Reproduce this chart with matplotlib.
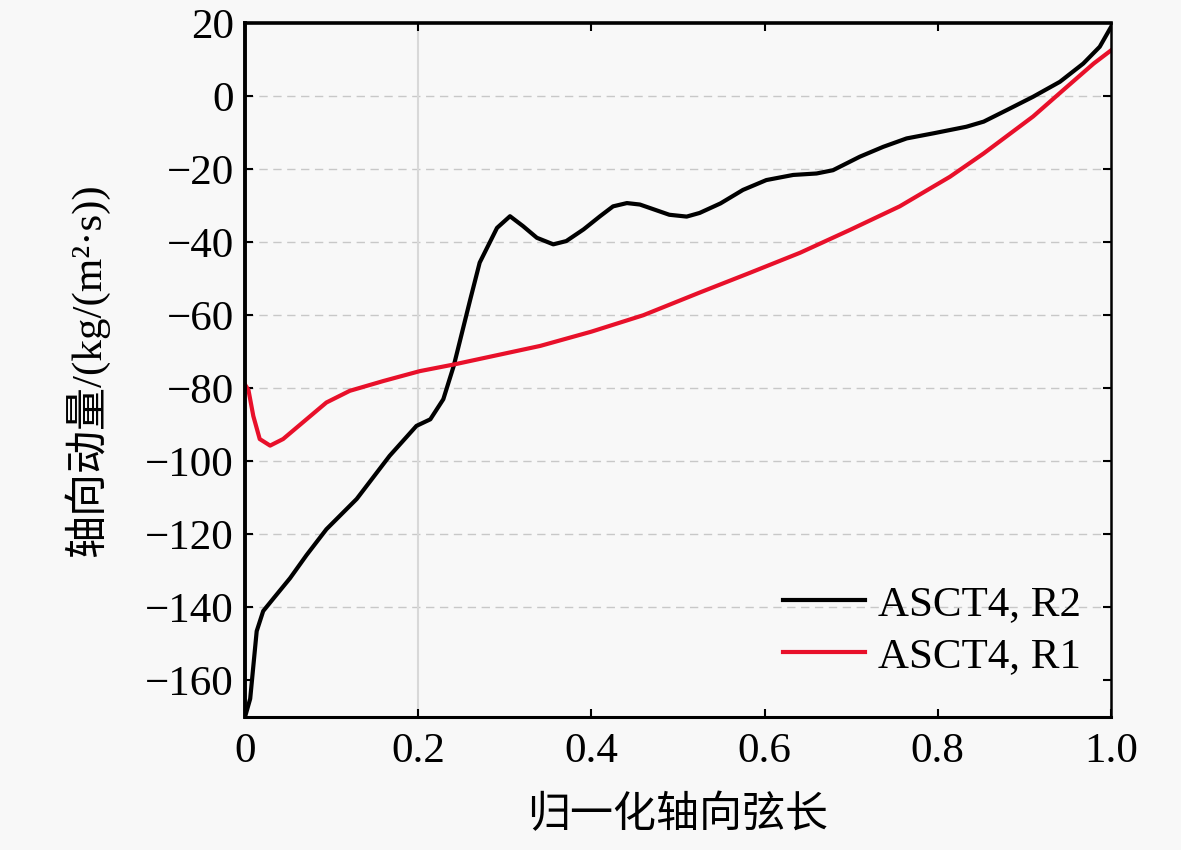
import numpy as np
import matplotlib
matplotlib.use("Agg")
import matplotlib.pyplot as plt

plt.rcParams['font.family'] = ['Liberation Serif', 'Noto Sans CJK SC', 'DejaVu Sans']
plt.rcParams['axes.unicode_minus'] = True

# ASCT4, R2 (black)
x_r2 = [0, 0.006, 0.0135, 0.021, 0.033, 0.052, 0.071, 0.094, 0.129, 0.167, 0.198,
        0.214, 0.229, 0.241, 0.26, 0.271, 0.291, 0.306, 0.321, 0.337, 0.356, 0.371,
        0.391, 0.41, 0.425, 0.441, 0.456, 0.49, 0.51, 0.525, 0.549, 0.575, 0.602,
        0.633, 0.66, 0.679, 0.71, 0.737, 0.764, 0.795, 0.833, 0.853, 0.88, 0.91,
        0.941, 0.968, 0.987, 1.0]
y_r2 = [-170, -165, -146.5, -141, -137.5, -132, -125.7, -118.6, -110.3, -98.5, -90.3,
        -88.5, -83, -73.9, -55.8, -45.6, -36.1, -32.9, -35.6, -38.8, -40.6, -39.7,
        -36.5, -32.9, -30.2, -29.3, -29.7, -32.5, -33, -32.0, -29.4, -25.7, -23.0,
        -21.6, -21.2, -20.3, -16.6, -13.9, -11.6, -10.2, -8.4, -7.0, -3.8, -0.2,
        3.9, 8.9, 13.5, 18.9]

# ASCT4, R1 (red)
x_r1 = [0, 0.004, 0.0096, 0.017, 0.029, 0.044, 0.071, 0.094, 0.121, 0.16, 0.202,
        0.241, 0.341, 0.4, 0.46, 0.525, 0.583, 0.641, 0.699, 0.756, 0.814, 0.853,
        0.91, 0.949, 0.98, 1.0]
y_r1 = [-79, -80.5, -87.6, -93.9, -95.7, -93.9, -88.5, -83.9, -80.7, -78.0, -75.3,
        -73.5, -68.4, -64.5, -60, -53.8, -48.4, -42.9, -36.6, -30.2, -22.1, -15.7,
        -5.6, 2.5, 8.9, 12.5]

xticks = [0, 0.2, 0.4, 0.6, 0.8, 1.0]
xticklabels = ['0', '0.2', '0.4', '0.6', '0.8', '1.0']
yticks = list(range(-160, 21, 20))

fig = plt.figure(figsize=(11.81, 8.5), dpi=100, facecolor='#f8f8f8')
ax = fig.add_axes([245/1181, 1 - 717/850, (1111-245)/1181, (717-23)/850])
ax.set_facecolor('#f8f8f8')

for yv in yticks[1:-1]:
    ax.axhline(yv, color='#c8c8c8', lw=1.0, ls=(0, (6, 4)), zorder=0)
ax.axvline(0.2, color='#d8d8d8', lw=1.5, zorder=0)

ax.plot(x_r2, y_r2, color='black', lw=3.0, label='ASCT4, R2', solid_joinstyle='round')
ax.plot(x_r1, y_r1, color='#e8102a', lw=3.0, label='ASCT4, R1', solid_joinstyle='round')

ax.set_xlim(0, 1.0)
ax.set_ylim(-170, 20)
ax.set_xticks(xticks)
ax.set_xticklabels(xticklabels)
ax.set_yticks(yticks)
ax.tick_params(direction='in', length=6, width=1.5, labelsize=31,
               top=True, right=True)
ax.tick_params(axis='x', pad=11)
ax.tick_params(axis='y', pad=8)

for side, w in [('left', 2.8), ('top', 2.6), ('bottom', 2.2), ('right', 1.8)]:
    ax.spines[side].set_linewidth(w)

ax.set_xlabel('归一化轴向弦长', fontsize=31, family=['Noto Sans CJK SC', 'DejaVu Sans'],
              labelpad=16)
ax.set_ylabel('轴向动量/(kg/(m²·s))', fontsize=31,
              family=['Liberation Serif', 'Noto Sans CJK SC', 'DejaVu Sans'], labelpad=26)

ax.legend(loc='lower right', frameon=False, fontsize=31, handlelength=1.9,
          handletextpad=0.3, labelspacing=0.3, borderaxespad=0.3,
          bbox_to_anchor=(1.0, 0.015))

fig.savefig('out.png', dpi=100, facecolor=fig.get_facecolor())
